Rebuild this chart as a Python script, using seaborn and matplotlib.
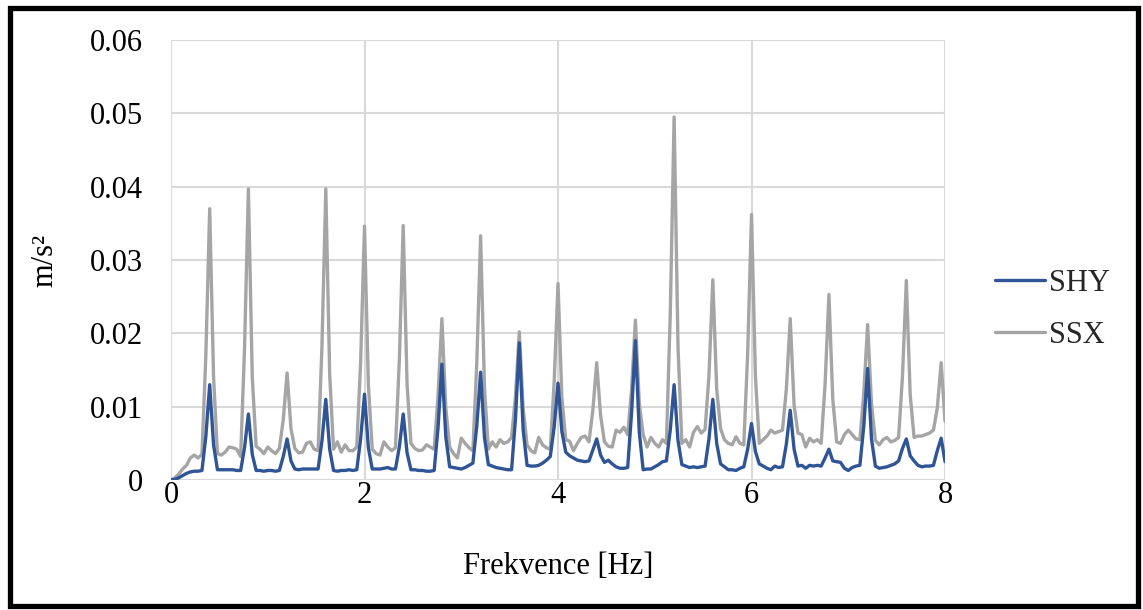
import numpy as np
import pandas as pd
import matplotlib
matplotlib.use("Agg")
import matplotlib.pyplot as plt
import seaborn as sns
from matplotlib.patches import Rectangle

# acceleration spectra, one value every 0.04 Hz from 0 to 8 Hz
shy = [
    0.0000, 0.0001, 0.0003, 0.0006, 0.0009, 0.0011, 0.0012, 0.0012, 0.0013, 0.0059,
    0.0130, 0.0048, 0.0014, 0.0014, 0.0014, 0.0014, 0.0014, 0.0013, 0.0013, 0.0044,
    0.0090, 0.0035, 0.0013, 0.0013, 0.0012, 0.0013, 0.0013, 0.0012, 0.0013, 0.0032,
    0.0056,
    0.0026, 0.0015, 0.0014, 0.0015, 0.0015, 0.0015, 0.0015, 0.0015, 0.0053, 0.0110,
    0.0042, 0.0013, 0.0012, 0.0013, 0.0013, 0.0014, 0.0013, 0.0014, 0.0056, 0.0117,
    0.0044, 0.0015, 0.0015, 0.0015, 0.0016, 0.0017, 0.0015, 0.0015, 0.0045, 0.0090,
    0.0037, 0.0014, 0.0014, 0.0013, 0.0013, 0.0012, 0.0012, 0.0013, 0.0071, 0.0158,
    0.0059, 0.0018, 0.0017, 0.0016, 0.0015, 0.0017, 0.0020, 0.0023, 0.0073, 0.0147,
    0.0058, 0.0021, 0.0019, 0.0017, 0.0016, 0.0015, 0.0014, 0.0014, 0.0083, 0.0187,
    0.0068, 0.0020, 0.0019, 0.0019, 0.0020, 0.0023, 0.0027, 0.0032, 0.0072, 0.0132,
    0.0066, 0.0038, 0.0033, 0.0030, 0.0027, 0.0026, 0.0025, 0.0026, 0.0041, 0.0056,
    0.0034, 0.0024, 0.0027, 0.0022, 0.0018, 0.0016, 0.0016, 0.0017, 0.0091, 0.0190,
    0.0065, 0.0014, 0.0015, 0.0015, 0.0018, 0.0021, 0.0025, 0.0026, 0.0068, 0.0130,
    0.0054, 0.0021, 0.0019, 0.0017, 0.0018, 0.0017, 0.0018, 0.0019, 0.0056, 0.0110,
    0.0050, 0.0022, 0.0018, 0.0014, 0.0014, 0.0013, 0.0016, 0.0018, 0.0042, 0.0077,
    0.0039, 0.0022, 0.0019, 0.0016, 0.0014, 0.0019, 0.0017, 0.0018, 0.0049, 0.0095,
    0.0042, 0.0019, 0.0020, 0.0016, 0.0020, 0.0019, 0.0020, 0.0019, 0.0030, 0.0042,
    0.0026, 0.0025, 0.0024, 0.0016, 0.0013, 0.0017, 0.0019, 0.0020, 0.0073, 0.0152,
    0.0056, 0.0019, 0.0016, 0.0017, 0.0018, 0.0020, 0.0022, 0.0026, 0.0043, 0.0056,
    0.0033, 0.0026, 0.0020, 0.0018, 0.0019, 0.0019, 0.0020, 0.0040, 0.0057, 0.0025,
]
ssx = [
    0.0000, 0.0003, 0.0008, 0.0015, 0.0020, 0.0030, 0.0034, 0.0030, 0.0035, 0.0169,
    0.0370, 0.0140, 0.0036, 0.0034, 0.0038, 0.0045, 0.0044, 0.0042, 0.0032, 0.0179,
    0.0397, 0.0140, 0.0046, 0.0042, 0.0036, 0.0045, 0.0040, 0.0036, 0.0043, 0.0082,
    0.0146,
    0.0070, 0.0043, 0.0037, 0.0038, 0.0050, 0.0052, 0.0042, 0.0040, 0.0181, 0.0397,
    0.0144, 0.0042, 0.0052, 0.0038, 0.0048, 0.0040, 0.0040, 0.0045, 0.0161, 0.0346,
    0.0130, 0.0042, 0.0036, 0.0034, 0.0052, 0.0045, 0.0040, 0.0044, 0.0163, 0.0347,
    0.0130, 0.0050, 0.0043, 0.0040, 0.0041, 0.0048, 0.0045, 0.0042, 0.0115, 0.0220,
    0.0099, 0.0045, 0.0036, 0.0030, 0.0057, 0.0050, 0.0044, 0.0040, 0.0158, 0.0333,
    0.0126, 0.0042, 0.0052, 0.0045, 0.0055, 0.0050, 0.0052, 0.0058, 0.0114, 0.0202,
    0.0097, 0.0048, 0.0040, 0.0037, 0.0058, 0.0048, 0.0044, 0.0042, 0.0133, 0.0268,
    0.0112, 0.0055, 0.0053, 0.0040, 0.0050, 0.0058, 0.0060, 0.0052, 0.0095, 0.0160,
    0.0088, 0.0052, 0.0046, 0.0045, 0.0068, 0.0065, 0.0072, 0.0062, 0.0123, 0.0218,
    0.0104, 0.0062, 0.0045, 0.0058, 0.0050, 0.0045, 0.0055, 0.0050, 0.0225, 0.0495,
    0.0182, 0.0050, 0.0055, 0.0045, 0.0065, 0.0073, 0.0064, 0.0069, 0.0142, 0.0273,
    0.0124, 0.0070, 0.0055, 0.0050, 0.0048, 0.0059, 0.0050, 0.0048, 0.0172, 0.0362,
    0.0142, 0.0050, 0.0055, 0.0060, 0.0068, 0.0064, 0.0066, 0.0068, 0.0124, 0.0220,
    0.0102, 0.0064, 0.0062, 0.0045, 0.0057, 0.0052, 0.0055, 0.0050, 0.0130, 0.0253,
    0.0110, 0.0052, 0.0050, 0.0062, 0.0068, 0.0062, 0.0056, 0.0055, 0.0118, 0.0212,
    0.0104, 0.0054, 0.0048, 0.0055, 0.0058, 0.0052, 0.0054, 0.0058, 0.0141, 0.0272,
    0.0116, 0.0058, 0.0060, 0.0060, 0.0062, 0.0064, 0.0068, 0.0098, 0.0160, 0.0080,
]
freq = np.round(np.arange(len(shy)) * 0.04, 2)

series_names = ["SHY", "SSX"]
colors = {"SHY": "#2F5597", "SSX": "#A5A5A5"}
x_ticks = [0, 2, 4, 6, 8]
y_ticks = [0, 0.01, 0.02, 0.03, 0.04, 0.05, 0.06]
y_tick_labels = ["0", "0.01", "0.02", "0.03", "0.04", "0.05", "0.06"]

df = pd.concat([
    pd.DataFrame({"f": freq, "v": ssx, "series": "SSX"}),
    pd.DataFrame({"f": freq, "v": shy, "series": "SHY"}),
])

sns.set_theme(style="whitegrid")
plt.rcParams["font.family"] = ["Liberation Serif", "DejaVu Serif"]

fig = plt.figure(figsize=(11.43, 6.10), dpi=100)
ax = fig.add_axes([0.1496, 0.2131, 0.8268 - 0.1496, 0.9344 - 0.2131])

sns.lineplot(data=df, x="f", y="v", hue="series", hue_order=["SSX", "SHY"],
             palette=colors, linewidth=2.4, ax=ax, legend=False)

ax.set_xlim(0, 8)
ax.set_ylim(0, 0.06)
ax.set_xticks(x_ticks)
ax.set_xticklabels([str(t) for t in x_ticks])
ax.set_yticks(y_ticks)
ax.set_yticklabels(y_tick_labels)
ax.tick_params(axis="both", labelsize=22, colors="black", length=0)
ax.tick_params(axis="y", pad=20)
ax.tick_params(axis="x", pad=1)
ax.grid(True, color="#d9d9d9", linewidth=1.5)
for s in ax.spines.values():
    s.set_visible(False)
ax.set_axisbelow(True)

ax.set_xlabel("Frekvence [Hz]", fontsize=22, color="black", labelpad=30)
ax.set_ylabel("m/s²", fontsize=22, color="black", labelpad=22)

handles = [plt.Line2D([], [], color=colors[n], linewidth=2.4) for n in series_names]
fig.legend(handles, series_names, loc="center left", bbox_to_anchor=(0.8705, 0.493),
           frameon=False, fontsize=22, handlelength=1.65, handletextpad=0.12,
           labelspacing=0.75, borderpad=0, borderaxespad=0)

fig.patches.append(Rectangle((0.0085, 0.0066), 0.987, 0.981, transform=fig.transFigure,
                             fill=False, edgecolor="black", linewidth=3.8))

fig.savefig("out.png", dpi=100)
